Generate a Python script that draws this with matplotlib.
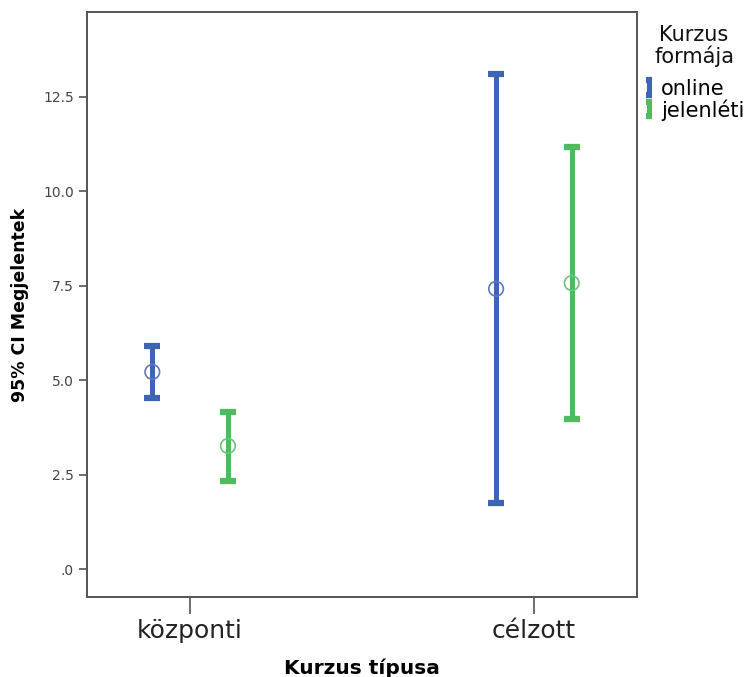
import matplotlib.pyplot as plt
import numpy as np
from matplotlib.legend_handler import HandlerErrorbar

# Group means and 95% CI bounds per course type / course format
categories = ["központi", "célzott"]
formats = ["online", "jelenléti"]
means = {"online": [5.22, 7.42], "jelenléti": [3.26, 7.57]}
lower = {"online": [4.53, 1.75], "jelenléti": [2.33, 3.97]}
upper = {"online": [5.91, 13.11], "jelenléti": [4.16, 11.18]}

COL = {"online": "#3e64b6", "jelenléti": "#4dbb5e"}
RING = {"online": "#5b79bd", "jelenléti": "#6cc47a"}
OFFSET = {"online": -0.11, "jelenléti": 0.11}

plt.rcParams.update({"font.family": "DejaVu Sans"})


def _small_caps(handle, orig):
    # legend keys: copy style, then shrink the caps to a compact "I"
    handle.update_from(orig)
    if hasattr(handle, "set_markersize"):
        handle.set_markersize(orig.get_markersize() * 0.45)


fig = plt.figure(figsize=(7.52, 6.77), dpi=100)
ax = fig.add_axes([0.1157, 0.1182, 0.7314, 0.8641])

x = np.arange(len(categories))
handles = []
for f in formats:
    m = np.array(means[f]); lo = np.array(lower[f]); hi = np.array(upper[f])
    eb = ax.errorbar(x + OFFSET[f], m, yerr=[m - lo, hi - m], fmt="none",
                     ecolor=COL[f], elinewidth=3.6, capsize=5.5, capthick=4.5, label=f)
    ax.scatter(x + OFFSET[f], m, s=110, facecolor="none", edgecolor=RING[f],
               linewidth=1.2, zorder=4)
    handles.append(eb)

ax.set_xlim(-0.3, 1.3)
ax.set_ylim(-0.74, 14.75)
ax.set_yticks([0, 2.5, 5, 7.5, 10, 12.5])
ax.set_yticklabels([".0", "2.5", "5.0", "7.5", "10.0", "12.5"])
ax.set_xticks(x)
ax.set_xticklabels(categories, fontsize=18, color="#222222")
ax.tick_params(axis="y", labelsize=10, labelcolor="#444444", length=6, width=1.2,
               color="#555555")
ax.tick_params(axis="x", length=12, width=1.2, color="#555555", pad=4)
for s in ax.spines.values():
    s.set_color("#555555")
    s.set_linewidth(1.4)

ax.set_xlabel("Kurzus típusa", fontsize=14.5, fontweight="bold", labelpad=11)
ax.set_ylabel("95% CI Megjelentek", fontsize=12.5, fontweight="bold", labelpad=10)

# legend title drawn on its own so the gap above the entries can be set freely
fig.text(0.923, 0.932, "Kurzus\nformája", ha="center", va="center", fontsize=15,
         linespacing=1.05, color="#111111")
fig.legend(handles=handles, labels=formats, loc="center left",
           bbox_to_anchor=(0.858, 0.852), frameon=False, fontsize=15,
           handlelength=0.4, handleheight=0.9, handletextpad=0.35,
           labelspacing=0.0, borderpad=0.0, borderaxespad=0.0,
           handler_map={type(handles[0]): HandlerErrorbar(yerr_size=0.34,
                                                          update_func=_small_caps)})

fig.savefig("out.png", dpi=100, facecolor="white")
